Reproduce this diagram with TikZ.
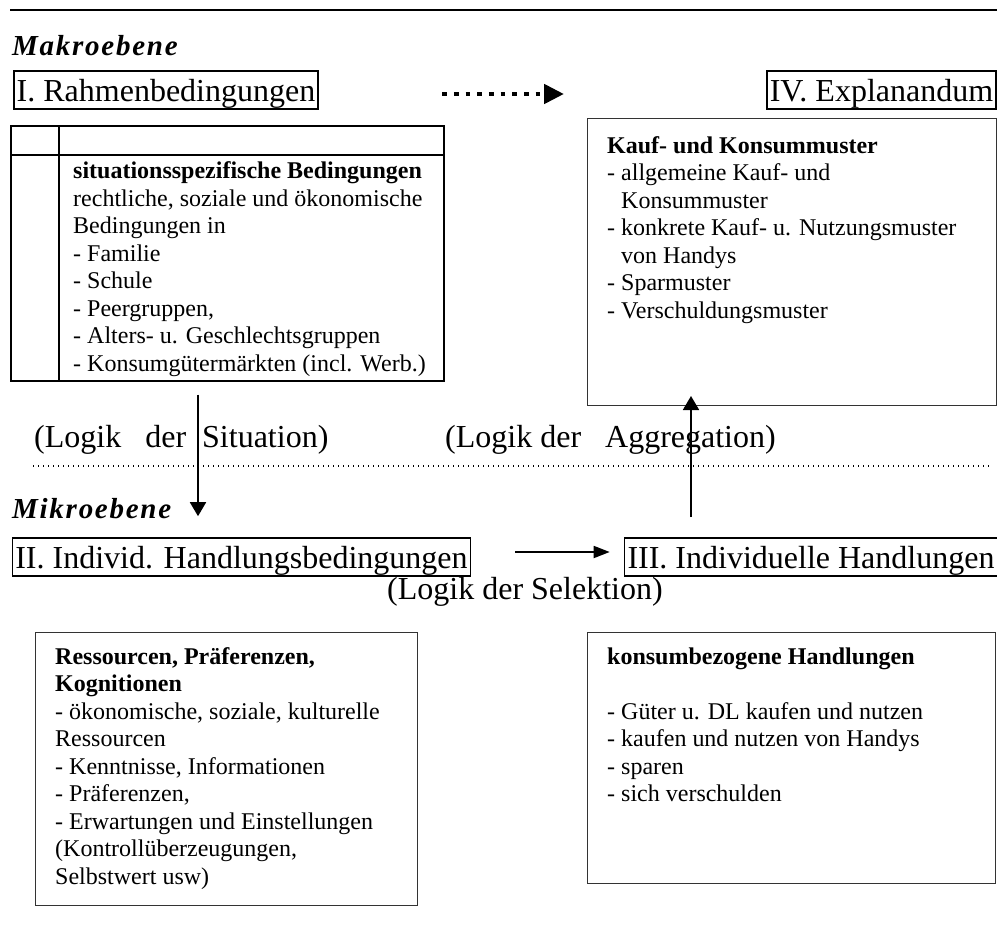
\documentclass[tikz,border=0pt]{standalone}
\usepackage{fontspec}
\setmainfont{Liberation Serif}
\usetikzlibrary{arrows.meta}
\newcommand{\erstzeile}{\rule{0pt}{20pt}}

\tikzset{
    titel/.style={draw, line width=1.6pt, inner xsep=3pt, inner ysep=3.5pt, text height=27pt, text depth=4pt, font=\fontsize{32}{36}\selectfont},
    kasten/.style={draw=black!80, line width=1pt, inner sep=0pt, anchor=north west},
    inhalt/.style={anchor=north west, inner sep=0pt, align=left, font=\fontsize{24}{27.5}\selectfont},
    ebene/.style={anchor=base west, inner sep=0pt, font=\fontsize{29}{32}\selectfont\bfseries\itshape\addfontfeatures{LetterSpace=6}},
    logik/.style={anchor=base west, inner sep=0pt, font=\fontsize{32}{36}\selectfont},
    pfeil/.style={line width=1.8pt, -{Triangle[length=14pt,width=16pt]}},
    punkte/.style={line width=1.4pt, dash pattern=on 1.4pt off 3.6pt},
    punktpfeil/.style={line width=4.7pt, dash pattern=on 4.7pt off 7pt, -{Triangle[length=20pt,width=19pt]}}
}

\begin{document}
\begin{tikzpicture}[x=1pt, y=-1pt]

    \useasboundingbox (0,0) rectangle (997,937);

    \draw[line width=2pt] (10,10) -- (997,10);

    % Makroebene
    \node[ebene] (makro) at (12,55) {Makroebene};

    \node[titel] (rahmen) at (166,90) {I. Rahmenbedingungen};
    \node[titel] (explanandum) at (881.5,90) {IV. Explanandum};

    \draw[punktpfeil, shorten <=123pt, shorten >=202pt] ([yshift=-4pt]rahmen.east) -- ([yshift=-4pt]explanandum.west);

    \node[draw, line width=1.6pt, inner sep=0pt, minimum width=433pt, minimum height=255pt, anchor=north west] (situation) at (10,125) {};
    \draw[line width=1.6pt] (59,125) -- (59,380);
    \draw[line width=1.6pt] (10,155) -- (443,155);

    \node[inhalt] (situationtext) at (73,158.5) {\erstzeile\textbf{situationsspezifische Bedingungen}\\
        rechtliche, soziale und ökonomische\\
        Bedingungen in\\
        - Familie\\
        - Schule\\
        - Peergruppen,\\
        - Alters- u. Geschlechtsgruppen\\
        - Konsumgütermärkten (incl. Werb.)};

    \node[kasten, minimum width=409pt, minimum height=287pt] (konsum) at (587,118) {};
    \node[inhalt] (konsumtext) at (607,133) {\erstzeile\textbf{Kauf- und Konsummuster}\\
        - allgemeine Kauf- und\\
        \hphantom{-\ }Konsummuster\\
        - konkrete Kauf- u. Nutzungsmuster\\
        \hphantom{-\ }von Handys\\
        - Sparmuster\\
        - Verschuldungsmuster};

    \node[logik] (logsituation) at (34,447) {(Logik\ \ \ der\ \ Situation)};
    \node[logik] (logaggregation) at (445,447) {(Logik der\ \ \ Aggregation)};

    \draw[punkte] (33,466) -- (990,466);

    % Mikroebene
    \node[ebene] (mikro) at (12,518) {Mikroebene};

    \node[titel] (handlungsbed) at (241.5,557) {II. Individ. Handlungsbedingungen};
    \node[titel] (handlungen) at (811,557) {III. Individuelle Handlungen};

    \node[logik] (logselektion) at (387,599) {(Logik der Selektion)};

    \coordinate (sitx) at (198,0);
    \coordinate (aggx) at (691,0);

    \draw[pfeil, shorten <=13pt, shorten >=21pt] (situation.south -| sitx) -- (handlungsbed.north -| sitx);
    \draw[pfeil, shorten <=20pt, shorten >=-10pt] (handlungen.north -| aggx) -- (konsum.south -| aggx);
    \draw[pfeil, -{Triangle[length=16pt,width=12pt]}, shorten <=44pt, shorten >=14pt] ([yshift=5pt]handlungsbed.east) -- ([yshift=5pt]handlungen.west);

    \node[kasten, minimum width=382pt, minimum height=273pt] (ressourcen) at (35,632) {};
    \node[inhalt] (ressourcentext) at (55,644) {\erstzeile\textbf{Ressourcen, Präferenzen,}\\
        \textbf{Kognitionen}\\
        - ökonomische, soziale, kulturelle\\
        Ressourcen\\
        - Kenntnisse, Informationen\\
        - Präferenzen,\\
        - Erwartungen und Einstellungen\\
        (Kontrollüberzeugungen,\\
        Selbstwert usw)};

    \node[kasten, minimum width=408pt, minimum height=251pt] (handlung) at (587,632) {};
    \node[inhalt] (handlungtext) at (607,644) {\erstzeile\textbf{konsumbezogene Handlungen}\\[27.5pt]
        - Güter u. DL kaufen und nutzen\\
        - kaufen und nutzen von Handys\\
        - sparen\\
        - sich verschulden};

\end{tikzpicture}
\end{document}
